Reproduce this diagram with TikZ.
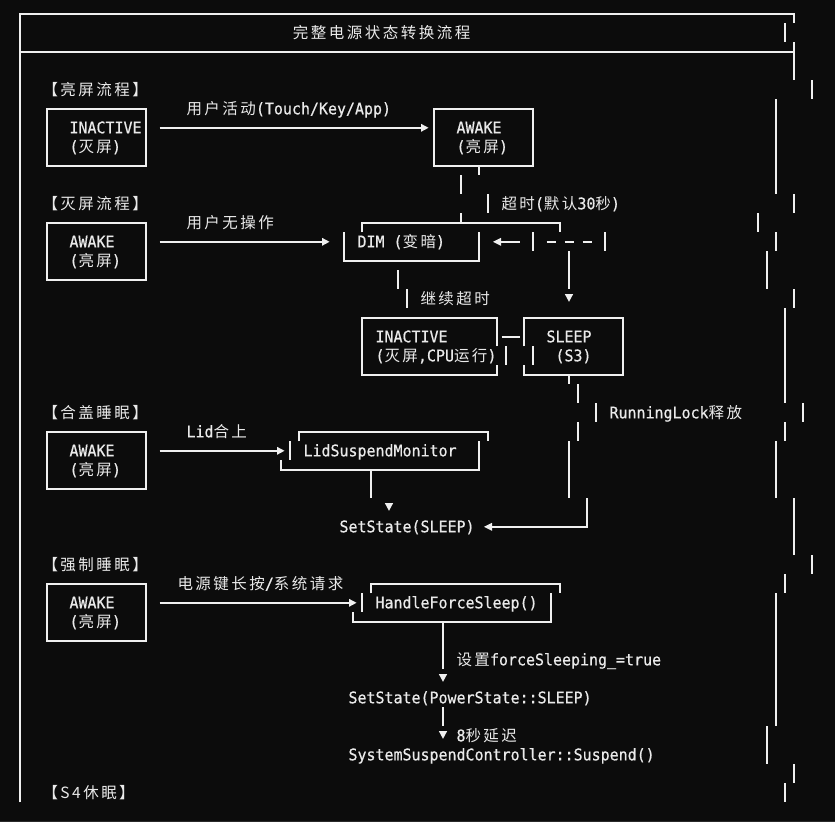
\documentclass[tikz,border=0pt]{standalone}
\usepackage{fontspec}
\newfontfamily\monof[FakeStretch=0.935,FakeBold=0.6]{DejaVu Sans Mono}
\newfontfamily\cjkf[LetterSpace=16]{Noto Sans CJK SC}
\newcommand{\zh}[1]{{\cjkf\fontsize{15.5}{19}\selectfont #1}}
\definecolor{bgc}{HTML}{0C0C0C}
\definecolor{lc}{HTML}{F0F0F0}
\definecolor{tc}{HTML}{EAEAEA}
\definecolor{stripc}{HTML}{2A2A2A}
\tikzset{
  wire/.style={draw=lc,line width=1.6pt},
  txt/.style={anchor=base west,inner sep=0pt,outer sep=0pt,text=tc,font=\monof\fontsize{16}{19}\selectfont},
  triR/.pic={\fill[lc] (-4pt,4pt) -- (3.5pt,0pt) -- (-4pt,-4pt) -- cycle;},
  triL/.pic={\fill[lc] (4pt,4pt) -- (-4pt,0pt) -- (4pt,-4pt) -- cycle;},
  triD/.pic={\fill[lc] (-4.2pt,4.8pt) -- (4.2pt,4.8pt) -- (0pt,-3pt) -- cycle;}
}
\begin{document}
\begin{tikzpicture}[x=9pt,y=-19pt]
\fill[bgc] (0pt,0pt) rectangle (835pt,-822pt);
\fill[stripc] (0pt,-820.5pt) rectangle (835pt,-822pt);
\begin{scope}[shift={(20pt,-13.8pt)}]
% ---------- frame ----------
\draw[wire] (0,41.5) -- (0,0) -- (86,0) -- (86,0.5);
\draw[wire] (85,0.5) -- (85,1.5);
\draw[wire] (0,2) -- (86,2);
\draw[wire] (86,1.5) -- (86,3.5);
\draw[wire] (88,3.5) -- (88,4.5);
\draw[wire] (84,4.5) -- (84,9.5);
\draw[wire] (86,9.5) -- (86,10.5);
\draw[wire] (82,10.5) -- (82,11.5);
\draw[wire] (84,11.5) -- (84,12.5);
\draw[wire] (83,12.5) -- (83,14.5);
\draw[wire] (86,14.5) -- (86,15.5);
\draw[wire] (85,15.5) -- (85,20.5);
\draw[wire] (87,20.5) -- (87,21.5);
\draw[wire] (85,21.5) -- (85,22.5);
\draw[wire] (84,22.5) -- (84,25.5);
\draw[wire] (86,25.5) -- (86,28.5);
\draw[wire] (88,28.5) -- (88,29.5);
\draw[wire] (85,29.5) -- (85,30.5);
\draw[wire] (84,30.5) -- (84,37.5);
\draw[wire] (83,37.5) -- (83,39.5);
\draw[wire] (86,39.5) -- (86,40.5);
\draw[wire] (85,40.5) -- (85,41.5);
\node[txt] (title) at ([yshift=-5.5pt]30.33,1) {\zh{完整电源状态转换流程}};

% ---------- 亮屏流程 ----------
\node[txt] (h1) at ([yshift=-5.5pt]2.5,4) {\zh{【亮屏流程】}};
\draw[wire] (3,5) rectangle (14,8);
\node[txt] (a1) at ([yshift=-5.5pt]5.5,6) {INACTIVE};
\node[txt] (a2) at ([yshift=-5.5pt]5.5,7) {(\zh{灭屏})};
\node[txt] (l1) at ([yshift=-5.5pt]18.5,5) {\zh{用户活动}(Touch/Key/App)};
\draw[wire] (15.5,6) -- ([xshift=-4pt]45,6);
\pic at (45,6) {triR};
\draw[wire] (46,5) rectangle (57,8);
\node[txt] (b1) at ([yshift=-5.5pt]48.5,6) {AWAKE};
\node[txt] (b2) at ([yshift=-5.5pt]48.5,7) {(\zh{亮屏})};
\draw[wire] (51,8) -- (51,8.5);
\draw[wire] (49,8.5) -- (49,9.5);
\draw[wire] (52,9.5) -- (52,10.5);
\node[txt] (l2) at ([yshift=-5.5pt]53.5,10) {\zh{超时}(\zh{默认}30\zh{秒})};

% ---------- 灭屏流程 ----------
\node[txt] (h2) at ([yshift=-5.5pt]2.5,10) {\zh{【灭屏流程】}};
\draw[wire] (3,11) rectangle (14,14);
\node[txt] (c1) at ([yshift=-5.5pt]5.5,12) {AWAKE};
\node[txt] (c2) at ([yshift=-5.5pt]5.5,13) {(\zh{亮屏})};
\node[txt] (l3) at ([yshift=-5.5pt]18.5,11) {\zh{用户无操作}};
\draw[wire] (15.5,12) -- ([xshift=-4pt]34,12);
\pic at (34,12) {triR};
\draw[wire] (38,11.5) -- (38,11) -- (60,11) -- (60,11.5);
\draw[wire] (49,10.5) -- (49,11);
\draw[wire] (36,11.5) -- (36,13) -- (51,13) -- (51,11.5);
\node[txt] (dim) at ([yshift=-5.5pt]37.5,12) {DIM (\zh{变暗})};
\pic at (53,12) {triL};
\draw[wire] ([xshift=3.5pt]53,12) -- (55.5,12);
\draw[wire] (57,11.5) -- (57,12.5);
\draw[wire] (58.5,12) -- (59.5,12) (60.5,12) -- (61.5,12) (62.5,12) -- (63.5,12);
\draw[wire] (65,11.5) -- (65,12.5);
\draw[wire] (61,12.5) -- (61,14.5);
\pic at (61,15) {triD};
\draw[wire] (42,13.5) -- (42,14.5);
\draw[wire] (43,14.5) -- (43,15.5);
\node[txt] (l4) at ([yshift=-5.5pt]44.5,15) {\zh{继续超时}};
\draw[wire] (53,17.5) -- (53,16) -- (38,16) -- (38,19) -- (53,19) -- (53,18.5);
\node[txt] (d1) at ([yshift=-5.5pt]39.5,17) {INACTIVE};
\node[txt] (d2) at ([yshift=-5.5pt]39.5,18) {(\zh{灭屏},CPU\zh{运行})};
\draw[wire] (53.5,17) -- (55.5,17);
\draw[wire] (54,17.5) -- (54,18.5);
\draw[wire] (57,17.5) -- (57,18.5);
\draw[wire] (56,17.5) -- (56,16) -- (67,16) -- (67,19) -- (56,19) -- (56,18.5);
\node[txt] (s1) at ([yshift=-5.5pt]58.5,17) {SLEEP};
\node[txt] (s2) at ([yshift=-5.5pt]59.5,18) {(S3)};
\draw[wire] (61,19) -- (61,19.5);
\draw[wire] (62,19.5) -- (62,20.5);
\draw[wire] (64,20.5) -- (64,21.5);
\node[txt] (l5) at ([yshift=-5.5pt]65.5,21) {RunningLock\zh{释放}};
\draw[wire] (62,21.5) -- (62,22.5);
\draw[wire] (61,22.5) -- (61,25.5);
\draw[wire] (63,25.5) -- (63,27) -- ([xshift=3.5pt]52,27);
\pic at (52,27) {triL};

% ---------- 合盖睡眠 ----------
\node[txt] (h3) at ([yshift=-5.5pt]2.5,21) {\zh{【合盖睡眠】}};
\draw[wire] (3,22) rectangle (14,25);
\node[txt] (e1) at ([yshift=-5.5pt]5.5,23) {AWAKE};
\node[txt] (e2) at ([yshift=-5.5pt]5.5,24) {(\zh{亮屏})};
\node[txt] (l6) at ([yshift=-5.5pt]18.5,22) {Lid\zh{合上}};
\draw[wire] (15.5,23) -- ([xshift=-4pt]29,23);
\pic at (29,23) {triR};
\draw[wire] (31,22.5) -- (31,22) -- (52,22) -- (52,22.5);
\draw[wire] (30,22.5) -- (30,23.5);
\node[txt] (lsm) at ([yshift=-5.5pt]31.5,23) {LidSuspendMonitor};
\draw[wire] (29,23.5) -- (29,24) -- (51,24) -- (51,22.5);
\draw[wire] (39,24) -- (39,25.5);
\pic at (41,26) {triD};
\node[txt] (ss1) at ([yshift=-5.5pt]35.5,27) {SetState(SLEEP)};

% ---------- 强制睡眠 ----------
\node[txt] (h4) at ([yshift=-5.5pt]2.5,29) {\zh{【强制睡眠】}};
\draw[wire] (3,30) rectangle (14,33);
\node[txt] (f1) at ([yshift=-5.5pt]5.5,31) {AWAKE};
\node[txt] (f2) at ([yshift=-5.5pt]5.5,32) {(\zh{亮屏})};
\node[txt] (l7) at ([yshift=-5.5pt]17.5,30) {\zh{电源键长按}/\zh{系统请求}};
\draw[wire] (15.5,31) -- ([xshift=-4pt]37,31);
\pic at (37,31) {triR};
\draw[wire] (38,30.5) -- (38,31.5);
\draw[wire] (39,30.5) -- (39,30) -- (60,30) -- (60,30.5);
\node[txt] (hfs) at ([yshift=-5.5pt]39.5,31) {HandleForceSleep()};
\draw[wire] (37,31.5) -- (37,32) -- (59,32) -- (59,30.5);
\draw[wire] (47,32) -- (47,34.5);
\node[txt] (l8) at ([yshift=-5.5pt]48.5,34) {\zh{设置}forceSleeping\_=true};
\pic at (47,35) {triD};
\node[txt] (ss2) at ([yshift=-5.5pt]36.5,36) {SetState(PowerState::SLEEP)};
\draw[wire] (47,36.5) -- (47,37.5);
\pic at (47,38) {triD};
\node[txt] (l9) at ([yshift=-5.5pt]48.5,38) {8\zh{秒延迟}};
\node[txt] (ssc) at ([yshift=-5.5pt]36.5,39) {SystemSuspendController::Suspend()};

% ---------- S4 ----------
\node[txt] (h5) at ([yshift=-5.5pt]2.5,41) {\zh{【S4休眠】}};
\end{scope}
\end{tikzpicture}
\end{document}
